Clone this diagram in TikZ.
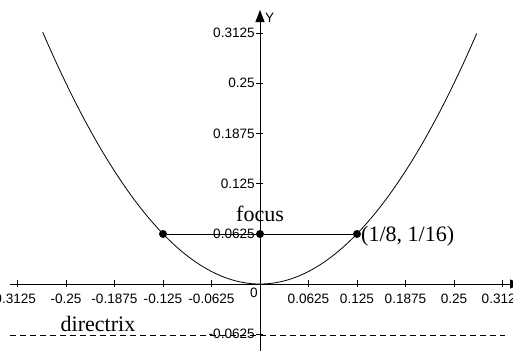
\documentclass[tikz,border=0pt]{standalone}
\usepackage{fontspec}
\setmainfont{Liberation Serif}
\newfontfamily\ticksfont{Liberation Sans}
\usetikzlibrary{arrows.meta}
\begin{document}
\begin{tikzpicture}[x=1pt,y=-1pt,
  axis/.style={line width=0.9pt},
  tickmark/.style={line width=0.8pt},
  ticklab/.style={font=\ticksfont\fontsize{13.6}{15}\selectfont, inner sep=0pt},
  serlab/.style={font=\fontsize{22}{25}\selectfont, inner sep=0pt},
  dot/.style={circle, fill=black, minimum size=8pt, inner sep=0pt},
  curve/.style={line width=0.8pt},
  dir/.style={line width=0.7pt, dash pattern=on 6pt off 4pt}]
\useasboundingbox (0,0) rectangle (513,351);
\clip (0,0) rectangle (513,351);
\fill[white] (0,0) rectangle (513,351);
% axes
\coordinate (xs) at (10,284);
\coordinate (xe) at (521,284);
\coordinate (ys) at (260,351);
\coordinate (ye) at (260,10);
\draw[axis,-{Triangle[length=11pt,width=9pt]}] (xs) -- (xe);
\draw[axis,-{Triangle[length=12pt,width=9pt]}] (ys) -- (ye);
\node[ticklab, anchor=west] (ylab) at (265,18) {Y};
\node[ticklab] (xlab) at (518,265) {X};
% x ticks
\foreach \v/\t in {-4/-0.25,-3/-0.1875,-2/-0.125,-1/-0.0625,1/0.0625,2/0.125,3/0.1875,4/0.25,5/0.3125}{
  \draw[tickmark] ({260+48.5*\v},280) -- ({260+48.5*\v},287);
  \node[ticklab] at ({260+48.5*\v},299) {\t};
}
\draw[tickmark] (17.5,280) -- (17.5,287);
\node[ticklab] (xlabmin) at (13,299) {-0.3125};
\node[ticklab] (zero) at (254,293) {0};
% y ticks
\foreach \v/\t in {5/0.3125,4/0.25,3/0.1875,2/0.125,1/0.0625,-1/-0.0625}{
  \draw[tickmark] (256,{284-50.2*\v}) -- (263,{284-50.2*\v});
  \node[ticklab, anchor=east] at (255,{284-50.2*\v}) {\t};
}
% parabola y = 4x^2
\draw[curve, domain=-0.28:0.28, samples=120, smooth] plot ({260+776*\x},{284-803*4*\x*\x});
% directrix
\coordinate (d1) at (10,335);
\coordinate (d2) at (505,335);
\draw[dir] (d1) -- (d2);
\node[serlab] (dirlab) at (98,324) {directrix};
% latus rectum
\node[dot] (L) at (163,234) {};
\node[dot] (F) at (260,234) {};
\node[dot] (R) at (357,234) {};
\draw[line width=0.8pt] (L) -- (F) -- (R);
\node[serlab] (foclab) at (260,214) {focus};
\node[serlab, anchor=west] (ptlab) at (361,236) {(1/8, 1/16)};
\end{tikzpicture}
\end{document}
